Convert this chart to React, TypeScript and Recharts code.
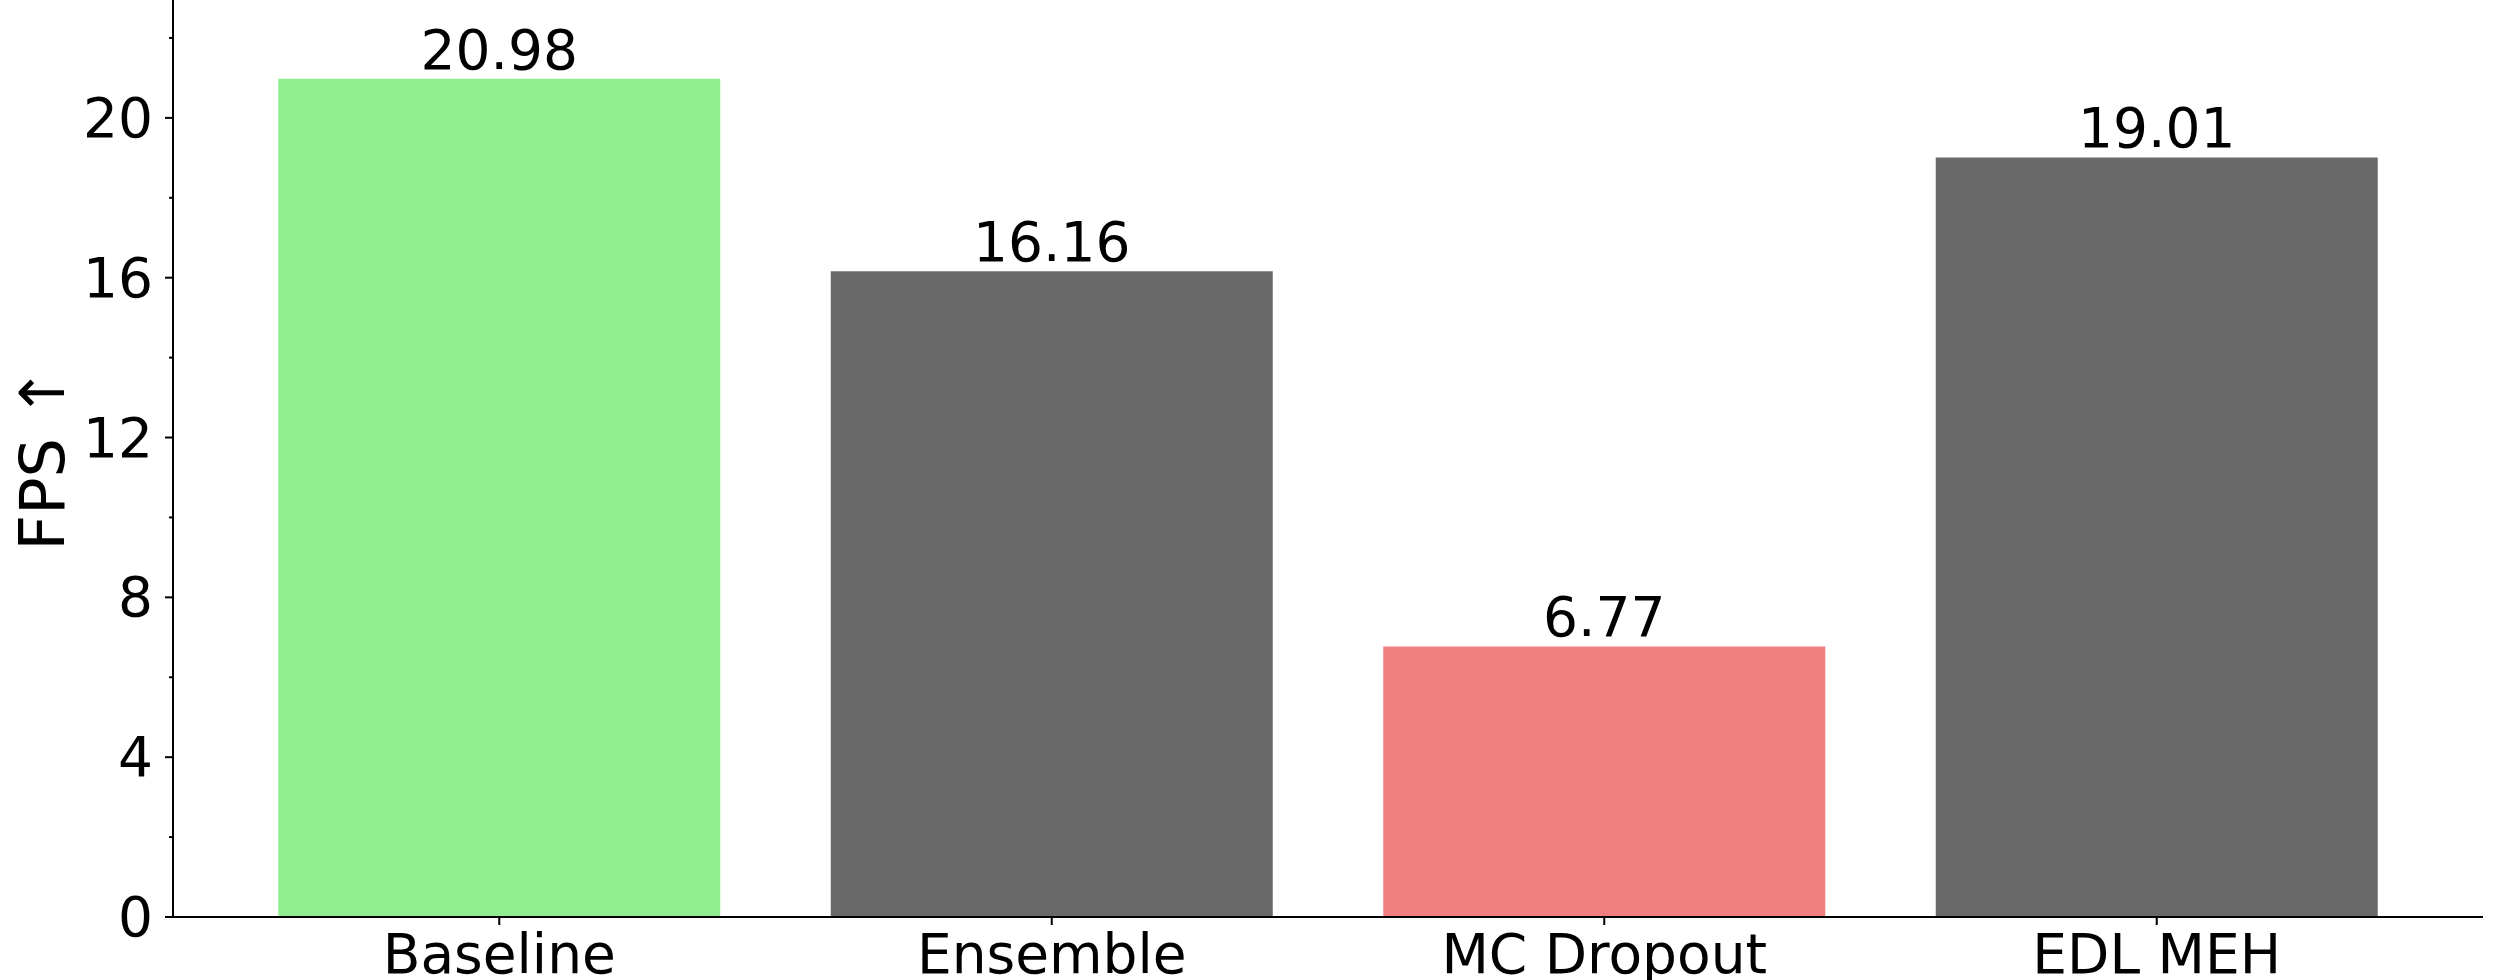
import { Bar, BarChart, Cell, LabelList, XAxis, YAxis } from "recharts";

const methods = ["Baseline", "Ensemble", "MC Dropout", "EDL MEH"];
const fps = [20.98, 16.16, 6.77, 19.01];
const barColors = ["#90EE90", "#696969", "#F08080", "#696969"];
const yTicks = [0, 2, 4, 6, 8, 10, 12, 14, 16, 18, 20, 22];
const yMax = 22.95;

const data = methods.map((name, i) => ({ name, fps: fps[i] }));

const FONT = "'DejaVu Sans', sans-serif";
const TICK_SIZE = 8;
const TICK_MARGIN = 12;

// major ticks every 4 with labels, minor ticks in between
const YTick = (props: any) => {
  const { x, y, payload } = props;
  const major = payload.value % 4 === 0;
  const axisX = x + TICK_SIZE + TICK_MARGIN;
  return (
    <g>
      <line
        x1={axisX - (major ? TICK_SIZE : TICK_SIZE / 2)}
        x2={axisX}
        y1={y}
        y2={y}
        stroke="#000"
        strokeWidth={2}
      />
      {major && (
        <text
          x={x}
          y={y}
          textAnchor="end"
          dominantBaseline="central"
          fontFamily={FONT}
          fontSize={55}
          fill="#000"
        >
          {payload.value}
        </text>
      )}
    </g>
  );
};

const YLabel = (props: any) => {
  const { viewBox } = props;
  const cx = viewBox.x + 42;
  const cy = viewBox.y + viewBox.height / 2;
  return (
    <text
      x={cx}
      y={cy}
      transform={`rotate(-90, ${cx}, ${cy})`}
      textAnchor="middle"
      dominantBaseline="central"
      fontFamily={FONT}
      fontSize={62}
      fill="#000"
    >
      FPS ↑
    </text>
  );
};

export default function App() {
  return (
    <div style={{ position: "absolute", left: 0, top: 0, background: "#fff" }}>
      <BarChart
        width={2500}
        height={980}
        data={data}
        margin={{ top: 0, right: 17, bottom: 0, left: 0 }}
        barCategoryGap="10%"
      >
        <XAxis
          dataKey="name"
          height={63}
          padding={{ left: 50, right: 50 }}
          axisLine={{ stroke: "#000", strokeWidth: 2 }}
          tickLine={{ stroke: "#000", strokeWidth: 2 }}
          tickSize={TICK_SIZE}
          tickMargin={9}
          tick={{ fontFamily: FONT, fontSize: 55, fill: "#000" }}
          interval={0}
        />
        <YAxis
          width={173}
          domain={[0, yMax]}
          ticks={yTicks}
          allowDataOverflow
          axisLine={{ stroke: "#000", strokeWidth: 2 }}
          tickLine={false}
          tickSize={TICK_SIZE}
          tickMargin={TICK_MARGIN}
          tick={<YTick />}
          interval={0}
          label={<YLabel />}
        />
        <YAxis
          yAxisId="right"
          orientation="right"
          width={0}
          domain={[0, yMax]}
          tick={false}
          tickLine={false}
          axisLine={{ stroke: "#000", strokeWidth: 2 }}
        />
        <Bar dataKey="fps" isAnimationActive={false}>
          {data.map((d, i) => (
            <Cell key={d.name} fill={barColors[i]} />
          ))}
          <LabelList
            dataKey="fps"
            position="top"
            offset={10}
            fontFamily={FONT}
            fontSize={55}
            fill="#000"
            formatter={(v: any) => Number(v).toFixed(2)}
          />
        </Bar>
      </BarChart>
    </div>
  );
}
